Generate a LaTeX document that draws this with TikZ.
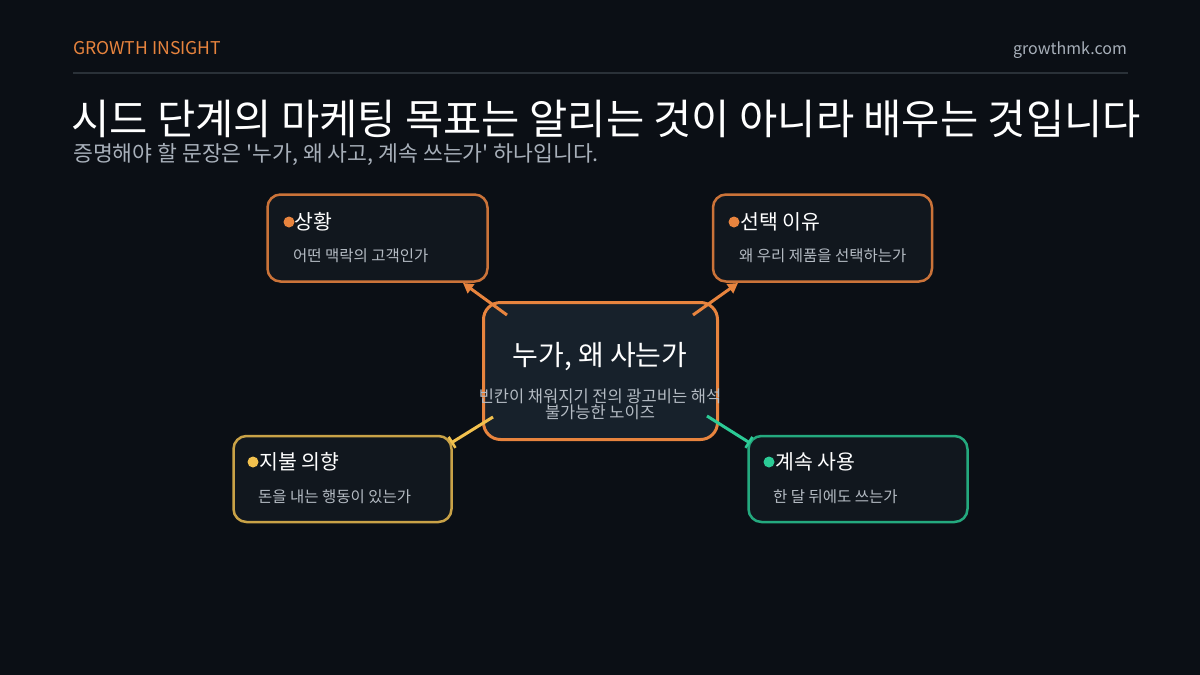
\documentclass[tikz,border=0pt]{standalone}
\usepackage{fontspec}
\setmainfont{Noto Sans CJK KR}
\newfontfamily\krplain{Noto Sans CJK KR}
\usetikzlibrary{arrows.meta}
\definecolor{bg}{HTML}{0B0F15}
\definecolor{boxfill}{HTML}{11171E}
\definecolor{cfill}{HTML}{17212B}
\definecolor{orng}{HTML}{E8843E}
\definecolor{orngdim}{HTML}{CB7339}
\definecolor{ylw}{HTML}{F2C14E}
\definecolor{ylwdim}{HTML}{C9A247}
\definecolor{teal}{HTML}{2CCB96}
\definecolor{tealdim}{HTML}{24A97E}
\definecolor{rule}{HTML}{2A3138}
\definecolor{subgray}{HTML}{A8B0BA}
\definecolor{txtgray}{HTML}{B4BBC3}
\tikzset{
  card/.style={draw, line width=2.5pt, rounded corners=13pt, fill=boxfill, inner sep=0pt},
  hub/.style={draw=orng, line width=3pt, rounded corners=17pt, fill=cfill, inner sep=0pt},
  dotmark/.style={circle, fill=#1, minimum size=11pt, inner sep=0pt},
  ctitle/.style={anchor=base west, inner sep=0pt, text=white, font=\fontsize{20.5}{23}\selectfont},
  csub/.style={anchor=base west, inner sep=0pt, text=txtgray, font=\fontsize{15.5}{18}\selectfont},
  link/.style={line width=3pt},
}
\begin{document}
\begin{tikzpicture}[x=1pt,y=-1pt]
\useasboundingbox (0,0) rectangle (1200,675);
\fill[bg] (0,0) rectangle (1200,675);
% header
\node[anchor=base west, inner sep=0pt, text=orng, font=\fontsize{17.6}{20}\selectfont] (brand) at (73,54.5) {GROWTH INSIGHT};
\node[anchor=base east, inner sep=0pt, text=subgray, font=\fontsize{16}{18}\selectfont] (site) at (1127,54.5) {growthmk.com};
\draw[rule, line width=2pt] (73,73) -- (1128,73);
\node[anchor=base west, inner sep=0pt, text=white, font=\fontsize{41.6}{46}\selectfont] (title) at (71,134.5) {시드 단계의 마케팅 목표는 알리는 것이 아니라 배우는 것입니다};
\node[anchor=base west, inner sep=0pt, text=subgray, font=\krplain\fontsize{21.6}{25}\selectfont] (subtitle) at (73,161.5) {증명해야 할 문장은 '누가, 왜 사고, 계속 쓰는가' 하나입니다.};
% boxes
\node[card, draw=orngdim, minimum width=220pt, minimum height=87pt] (sit) at (377.5,238) {};
\node[card, draw=orngdim, minimum width=219pt, minimum height=87pt] (why) at (822.5,238) {};
\node[card, draw=ylwdim, minimum width=218pt, minimum height=86pt] (pay) at (342.5,479) {};
\node[card, draw=tealdim, minimum width=219pt, minimum height=86pt] (keep) at (858,479) {};
% connector end points
\coordinate (tlS) at (507,315);
\coordinate (tlE) at (463,283);
\coordinate (trS) at (693,315);
\coordinate (trE) at (738,283);
\coordinate (blS) at (493,417);
\coordinate (blE) at (451,443);
\coordinate (brS) at (707,416);
\coordinate (brE) at (750,443);
\node[hub, minimum width=234pt, minimum height=137pt] (hubbox) at (600.5,371) {};
\draw[link, orng, -{Triangle[length=10pt,width=11pt]}] (tlS) -- (tlE);
\draw[link, orng, -{Triangle[length=10pt,width=11pt]}] (trS) -- (trE);
\draw[link, ylw, -{Bar[width=13pt,line width=2.5pt]}] (blS) -- (blE);
\draw[link, teal, -{Bar[width=13pt,line width=2.5pt]}] (brS) -- (brE);
% hub text
\node[anchor=base, inner sep=0pt, text=white, font=\fontsize{28}{32}\selectfont] (hubt) at (600,365) {누가, 왜 사는가};
\node[anchor=base, inner sep=0pt, text=txtgray, font=\fontsize{16.5}{19}\selectfont] (hubs1) at (600,402.5) {빈칸이 채워지기 전의 광고비는 해석};
\node[anchor=base, inner sep=0pt, text=txtgray, font=\fontsize{16.5}{19}\selectfont] (hubs2) at (600,418.5) {불가능한 노이즈};
% card texts
\node[dotmark=orng] (d1) at (289,222) {};
\node[ctitle] (t1) at (294,229.5) {상황};
\node[csub] (s1) at (293,261.4) {어떤 맥락의 고객인가};
\node[dotmark=orng] (d2) at (734,222) {};
\node[ctitle] (t2) at (740,229.5) {선택 이유};
\node[csub] (s2) at (739,261.4) {왜 우리 제품을 선택하는가};
\node[dotmark=ylw] (d3) at (253,462) {};
\node[ctitle] (t3) at (259,469.8) {지불 의향};
\node[csub] (s3) at (258,502.9) {돈을 내는 행동이 있는가};
\node[dotmark=teal] (d4) at (769,462) {};
\node[ctitle] (t4) at (775,469.8) {계속 사용};
\node[csub] (s4) at (773,502.9) {한 달 뒤에도 쓰는가};
\end{tikzpicture}
\end{document}
